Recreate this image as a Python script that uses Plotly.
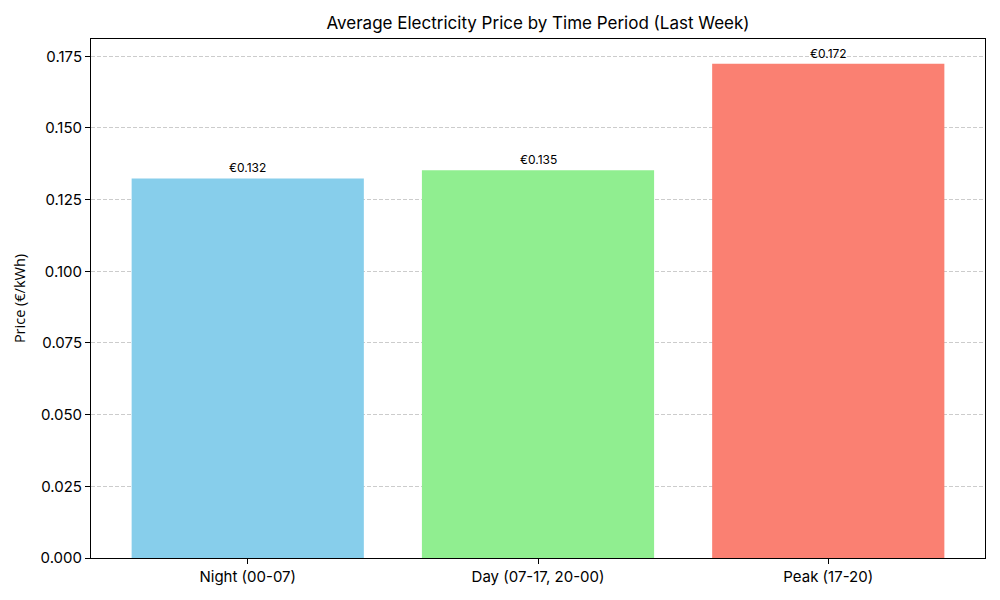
import plotly.graph_objects as go

categories = ["Night (00-07)", "Day (07-17, 20-00)", "Peak (17-20)"]
prices = [0.1324, 0.1352, 0.1724]
colors = ["#87CEEB", "#90EE90", "#FA8072"]
title = "Average Electricity Price by Time Period (Last Week)"
ylabel = "Price (€/kWh)"

L, R, T, B = 91, 15, 39, 42
xs = list(range(len(categories)))
fig = go.Figure()
fig.add_trace(go.Bar(x=xs, y=prices, marker_color=colors, width=0.8,
                     marker_line_width=0, showlegend=False))
for x, p in zip(xs, prices):
    fig.add_annotation(x=x, y=p, text=f"€{p:.3f}", showarrow=False,
                       yanchor="bottom", yshift=1,
                       font=dict(family="Inter", size=12, color="black"))

ymax = max(prices) * 1.05
fig.update_layout(
    width=1000, height=600,
    margin=dict(l=L, r=R, t=T, b=B),
    plot_bgcolor="white", paper_bgcolor="white",
    title=dict(text=title, x=(L + 1000 - R) / 2 / 1000, xanchor="center",
               y=1 - 23 / 600, yanchor="middle",
               font=dict(family="Inter", size=17, color="black")),
    font=dict(family="Inter", color="black"),
)
fig.update_xaxes(range=[-0.54, 2.54], tickvals=xs, ticktext=categories,
                 showline=True, linecolor="black", linewidth=1, mirror=True,
                 ticks="outside", ticklen=5, tickcolor="black",
                 showgrid=False, zeroline=False,
                 tickfont=dict(family="Inter", size=15))
fig.update_yaxes(range=[0, ymax], dtick=0.025, tick0=0, tickformat=".3f",
                 showline=True, linecolor="black", linewidth=1, mirror=True,
                 ticks="outside", ticklen=5, tickcolor="black",
                 showgrid=True, gridcolor="#CCCCCC", griddash="4px,2px", gridwidth=1,
                 zeroline=False,
                 title=dict(text=ylabel, font=dict(family="Open Sans", size=14.5), standoff=11),
                 tickfont=dict(family="Inter", size=15))
fig.write_html("out.html")
